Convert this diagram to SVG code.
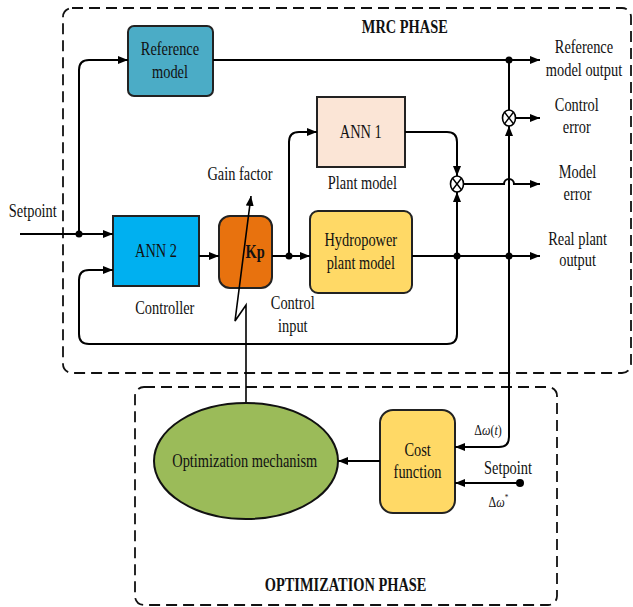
<svg xmlns="http://www.w3.org/2000/svg" width="633" height="607" viewBox="0 0 633 607">
<defs>
<marker id="ah" viewBox="0 0 10 8" refX="10" refY="4" markerWidth="10" markerHeight="8" markerUnits="userSpaceOnUse" orient="auto">
<path d="M0,0 L10,4 L0,8 Z" fill="#000"/>
</marker>
<style>
text{font-family:"Liberation Serif","Times New Roman",serif;font-size:18px;fill:#111;text-anchor:middle}
.b{font-weight:bold}
.s{font-size:15px}
.phase{fill:none;stroke:#111;stroke-width:1.8;stroke-dasharray:11 6}
.box{stroke:#222;stroke-width:2}
.c{fill:none;stroke:#000;stroke-width:2}
.a{marker-end:url(#ah)}
.dot{fill:#000}
.sum{fill:#fff;stroke:#000;stroke-width:1.6}
.x{stroke:#000;stroke-width:1.4;fill:none}
</style>
</defs>
<rect width="633" height="607" fill="#fff"/>

<g id="mrc-phase">
<rect class="phase" x="63" y="8" width="568" height="365" rx="9"/>
<text class="b" transform="scale(0.8 1)" x="506" y="33">MRC PHASE</text>
</g>
<g id="optimization-phase">
<rect class="phase" x="135" y="387" width="422" height="218" rx="9"/>
<text class="b" transform="scale(0.8 1)" x="432" y="591">OPTIMIZATION PHASE</text>
</g>

<g id="reference-model">
<rect class="box" x="128" y="26" width="85" height="70" rx="6" fill="#4BACC6"/>
<text transform="scale(0.8 1)" x="212.5" y="55">Reference</text>
<text transform="scale(0.8 1)" x="212.5" y="78">model</text>
</g>

<g id="ann1">
<rect class="box" x="317" y="97" width="88" height="70" fill="#FBE5D6"/>
<text transform="scale(0.8 1)" x="451" y="138">ANN 1</text>
<text transform="scale(0.8 1)" x="453" y="189">Plant model</text>
</g>

<g id="ann2">
<rect class="box" x="113" y="216" width="86" height="70" fill="#00B0F0"/>
<text transform="scale(0.8 1)" x="195" y="257">ANN 2</text>
<text transform="scale(0.8 1)" x="206" y="314">Controller</text>
</g>

<g id="kp">
<rect class="box" x="219" y="216" width="53" height="72" rx="11" fill="#E8720E"/>
<text class="b" transform="scale(0.8 1)" x="319" y="258">Kp</text>
<text transform="scale(0.8 1)" x="300" y="180">Gain factor</text>
</g>

<g id="hydropower">
<rect class="box" x="310" y="211" width="102" height="82" rx="8" fill="#FFD966"/>
<text transform="scale(0.8 1)" x="451" y="246">Hydropower</text>
<text transform="scale(0.8 1)" x="451" y="269">plant model</text>
</g>

<g id="optimization-mechanism">
<ellipse cx="246" cy="461" rx="92" ry="58" fill="#9BBB59" stroke="#111" stroke-width="2"/>
<text transform="scale(0.8 1)" x="306" y="467">Optimization mechanism</text>
</g>

<g id="cost-function">
<rect class="box" x="380" y="410" width="75" height="103" rx="13" fill="#FFD966"/>
<text transform="scale(0.8 1)" x="522" y="456">Cost</text>
<text transform="scale(0.8 1)" x="522" y="478">function</text>
</g>

<g id="control-error-sum">
<ellipse class="sum" cx="509" cy="118" rx="6.5" ry="8"/>
<path class="x" d="M504.6,112.3 L513.4,123.7 M513.4,112.3 L504.6,123.7"/>
</g>
<g id="model-error-sum">
<ellipse class="sum" cx="457" cy="184" rx="6.5" ry="8"/>
<path class="x" d="M452.6,178.3 L461.4,189.7 M461.4,178.3 L452.6,189.7"/>
</g>

<g id="labels">
<text transform="scale(0.8 1)" x="41" y="217">Setpoint</text>
<text transform="scale(0.8 1)" x="730" y="53">Reference</text>
<text transform="scale(0.8 1)" x="730" y="76">model output</text>
<text transform="scale(0.8 1)" x="721" y="111">Control</text>
<text transform="scale(0.8 1)" x="721" y="133">error</text>
<text transform="scale(0.8 1)" x="722" y="178">Model</text>
<text transform="scale(0.8 1)" x="722" y="200">error</text>
<text transform="scale(0.8 1)" x="722" y="245">Real plant</text>
<text transform="scale(0.8 1)" x="722" y="266">output</text>
<text transform="scale(0.8 1)" x="366" y="309">Control</text>
<text transform="scale(0.8 1)" x="366" y="332">input</text>
<text class="s" transform="scale(0.8 1)" x="610" y="435">Δ<tspan font-style="italic">ω</tspan>(<tspan font-style="italic">t</tspan>)</text>
<text transform="scale(0.8 1)" x="635" y="474">Setpoint</text>
<text class="s" transform="scale(0.8 1)" x="623" y="507">Δ<tspan font-style="italic">ω</tspan><tspan font-size="9" dy="-7">*</tspan></text>
</g>

<g id="connectors">
<path class="c a" d="M20,234 H113"/>
<path class="c a" d="M79,234 V70 Q79,60 89,60 H128"/>
<path class="c a" d="M457,256 V334 Q457,344 447,344 H89 Q79,344 79,334 V280 Q79,270 89,270 H113"/>
<path class="c a" d="M213,60 H540"/>
<path class="c" d="M509,60 V110"/>
<path class="c a" d="M509,256 V126"/>
<path class="c a" d="M509,256 V437 Q509,447 499,447 H455"/>
<path class="c a" d="M515.5,118 H540"/>
<path class="c a" d="M405,132 H447 Q457,132 457,142 V176"/>
<path class="c a" d="M457,256 V192"/>
<path class="c a" d="M463.5,184 H504 A5,5 0 0 1 514,184 H540"/>
<path class="c a" d="M412,256 H540"/>
<path class="c a" d="M199,256 H219"/>
<path class="c a" d="M272,256 H310"/>
<path class="c a" d="M289,256 V142 Q289,132 299,132 H317"/>
<path class="c a" d="M246,402 V305 L235,321 L251,196" style="stroke-width:1.6"/>
<path class="c a" d="M380,461 H338"/>
<path class="c a" d="M520,483 H455"/>
<circle class="dot" cx="79" cy="234" r="3.5"/>
<circle class="dot" cx="509" cy="60" r="3.5"/>
<circle class="dot" cx="457" cy="256" r="3.5"/>
<circle class="dot" cx="509" cy="256" r="3.5"/>
<circle class="dot" cx="289" cy="256" r="3.5"/>
<circle class="dot" cx="520" cy="483" r="4"/>
</g>
</svg>
